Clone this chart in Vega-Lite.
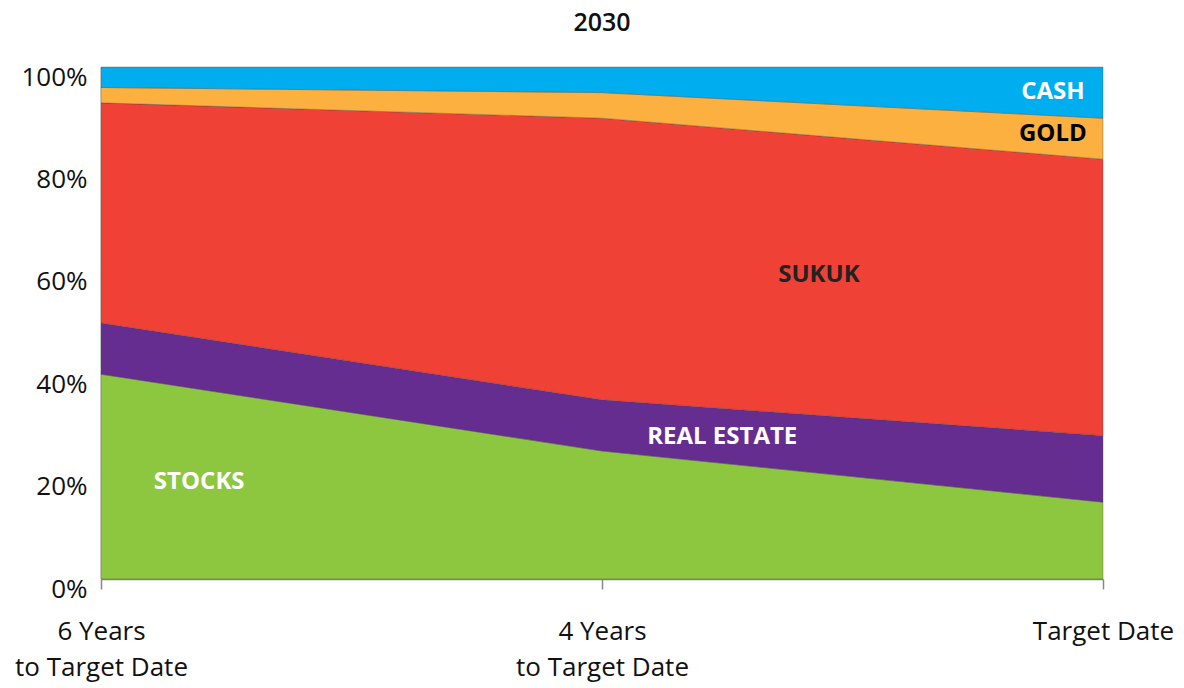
{
  "$schema": "https://vega.github.io/schema/vega-lite/v6.json",
  "autosize": {"type": "none"},
  "padding": {"left": 101, "top": 67, "right": 81, "bottom": 109},
  "width": 1002,
  "height": 512,
  "background": "white",
  "config": {"view": {"stroke": null}, "font": "Open Sans"},
  "title": {"text": "2030", "fontSize": 25, "fontWeight": 600, "font": "Open Sans", "color": "#111", "offset": 28, "anchor": "middle"},
  "datasets": {
    "alloc": [
      {"stage": 0, "asset": "STOCKS", "rank": 1, "pct": 40},
      {"stage": 0, "asset": "REAL ESTATE", "rank": 2, "pct": 10},
      {"stage": 0, "asset": "SUKUK", "rank": 3, "pct": 43},
      {"stage": 0, "asset": "GOLD", "rank": 4, "pct": 3},
      {"stage": 0, "asset": "CASH", "rank": 5, "pct": 4},
      {"stage": 1, "asset": "STOCKS", "rank": 1, "pct": 25},
      {"stage": 1, "asset": "REAL ESTATE", "rank": 2, "pct": 10},
      {"stage": 1, "asset": "SUKUK", "rank": 3, "pct": 55},
      {"stage": 1, "asset": "GOLD", "rank": 4, "pct": 5},
      {"stage": 1, "asset": "CASH", "rank": 5, "pct": 5},
      {"stage": 2, "asset": "STOCKS", "rank": 1, "pct": 15},
      {"stage": 2, "asset": "REAL ESTATE", "rank": 2, "pct": 13},
      {"stage": 2, "asset": "SUKUK", "rank": 3, "pct": 54},
      {"stage": 2, "asset": "GOLD", "rank": 4, "pct": 8},
      {"stage": 2, "asset": "CASH", "rank": 5, "pct": 10}
    ],
    "labels": [
      {"lx": 1.9, "ly": 95.1, "text": "CASH", "tc": "white"},
      {"lx": 1.9, "ly": 86.9, "text": "GOLD", "tc": "black"},
      {"lx": 1.433, "ly": 59.4, "text": "SUKUK", "tc": "#222"},
      {"lx": 1.24, "ly": 27.7, "text": "REAL ESTATE", "tc": "white"},
      {"lx": 0.196, "ly": 18.9, "text": "STOCKS", "tc": "white"}
    ]
  },
  "layer": [
    {
      "data": {"name": "alloc"},
      "mark": {"type": "area", "stroke": "#444", "strokeWidth": 1, "strokeOpacity": 0.35},
      "encoding": {
        "x": {
          "field": "stage", "type": "quantitative",
          "scale": {"domain": [0, 2], "nice": false, "zero": false},
          "axis": {
            "title": null, "values": [0, 1, 2], "grid": false,
            "domainColor": "#888", "domainWidth": 1.5,
            "tickColor": "#888", "tickSize": 10, "tickWidth": 1.5,
            "labelFontSize": 26, "labelColor": "#111", "labelFont": "Open Sans",
            "labelPadding": 29, "labelLineHeight": 36,
            "labelBound": false, "labelFlush": false, "labelOverlap": false,
            "labelExpr": "datum.value == 0 ? ['6 Years', 'to Target Date'] : datum.value == 1 ? ['4 Years', 'to Target Date'] : 'Target Date'"
          }
        },
        "y": {
          "field": "pct", "type": "quantitative", "stack": "zero",
          "scale": {"domain": [0, 100], "nice": false},
          "axis": {
            "title": null, "values": [0, 20, 40, 60, 80, 100], "grid": false,
            "domainColor": "#888", "domainWidth": 1.5, "ticks": false,
            "labelFontSize": 26, "labelColor": "#111", "labelFont": "Open Sans",
            "labelPadding": 14, "labelOffset": 10,
            "labelExpr": "datum.value + '%'"
          }
        },
        "color": {
          "field": "asset", "type": "nominal", "legend": null,
          "scale": {
            "domain": ["STOCKS", "REAL ESTATE", "SUKUK", "GOLD", "CASH"],
            "range": ["#8DC63F", "#662D91", "#EF4136", "#FBB040", "#00AEEF"]
          }
        },
        "order": {"field": "rank", "type": "quantitative"}
      }
    },
    {
      "data": {"name": "labels"},
      "mark": {"type": "text", "fontSize": 24, "fontWeight": "bold", "font": "Open Sans", "align": "center", "baseline": "middle"},
      "encoding": {
        "x": {"field": "lx", "type": "quantitative"},
        "y": {"field": "ly", "type": "quantitative"},
        "text": {"field": "text"},
        "color": {"field": "tc", "type": "nominal", "scale": null}
      }
    }
  ]
}
